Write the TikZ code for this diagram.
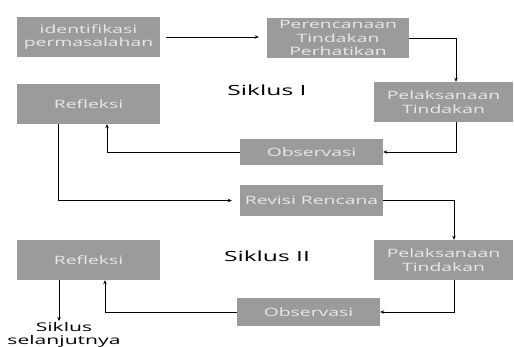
\documentclass[tikz,border=0pt]{standalone}
\usepackage{fontspec}
\setmainfont[FakeStretch=1.68]{Open Sans}
\newfontfamily\lblfamily[FakeStretch=1.76]{Open Sans}
\usetikzlibrary{arrows.meta,calc}
\definecolor{boxfill}{RGB}{155,155,155}
\definecolor{boxtext}{RGB}{232,232,232}
\begin{document}
\begin{tikzpicture}[x=1pt,y=-1pt,
 box/.style={fill=boxfill, text=boxtext, font=\fontsize{11.5}{13.5}\selectfont, align=center, inner sep=0pt, minimum width=143pt, minimum height=40pt},
 arr/.style={-{Stealth[length=4pt,width=3.5pt]}, line width=0.9pt},
 lbl/.style={font=\lblfamily\fontsize{14}{16}\selectfont}]
\useasboundingbox (0,0) rectangle (514,347);
\node[box] (b1) at (88.5,37) {identifikasi\\permasalahan};
\node[box, minimum width=142pt] (b2) at (338,38) {Perencanaan\\Tindakan\\Perhatikan};
\node[box, minimum width=139pt] (b3) at (443.5,102) {Pelaksanaan\\Tindakan};
\node[box, minimum height=26pt] (o1) at (311.5,152) {Observasi};
\node[box] (r1) at (88.5,104) {Refleksi};
\node[box, minimum height=31pt] (rv) at (311.5,200.5) {Revisi Rencana};
\node[box, minimum width=139pt] (b4) at (443.5,260) {Pelaksanaan\\Tindakan};
\node[box, minimum height=28pt] (o2) at (308.5,312) {Observasi};
\node[box] (r2) at (88.5,260) {Refleksi};
\node[lbl] (s1) at (267,90) {Siklus I};
\node[lbl] (s2) at (267,256) {Siklus II};
\node[anchor=north, inner sep=1pt, align=center, font=\lblfamily\fontsize{12}{13.5}\selectfont] (next) at (64,321) {Siklus\\selanjutnya};
\draw[arr, shorten <=6pt, shorten >=8pt] (b1.east) -- (b1.east -| b2.west);
\draw[arr] (b2.east) -| ([xshift=12.5pt]b3.north);
\draw[arr] ([xshift=12.5pt]b3.south) |- (o1.east);
\draw[arr] (o1.west) -| ([xshift=18.5pt]r1.south);
\draw[arr, shorten >=8pt] ([xshift=-30.5pt]r1.south) |- (rv.west);
\draw[arr] (rv.east) -| ([xshift=10.5pt]b4.north);
\draw[arr] ([xshift=10.5pt]b4.south) |- (o2.east);
\draw[arr] (o2.west) -| ([xshift=16.5pt]r2.south);
\draw[arr] ([xshift=-29.5pt]r2.south) -- ([xshift=-5pt]next.north);
\end{tikzpicture}
\end{document}
